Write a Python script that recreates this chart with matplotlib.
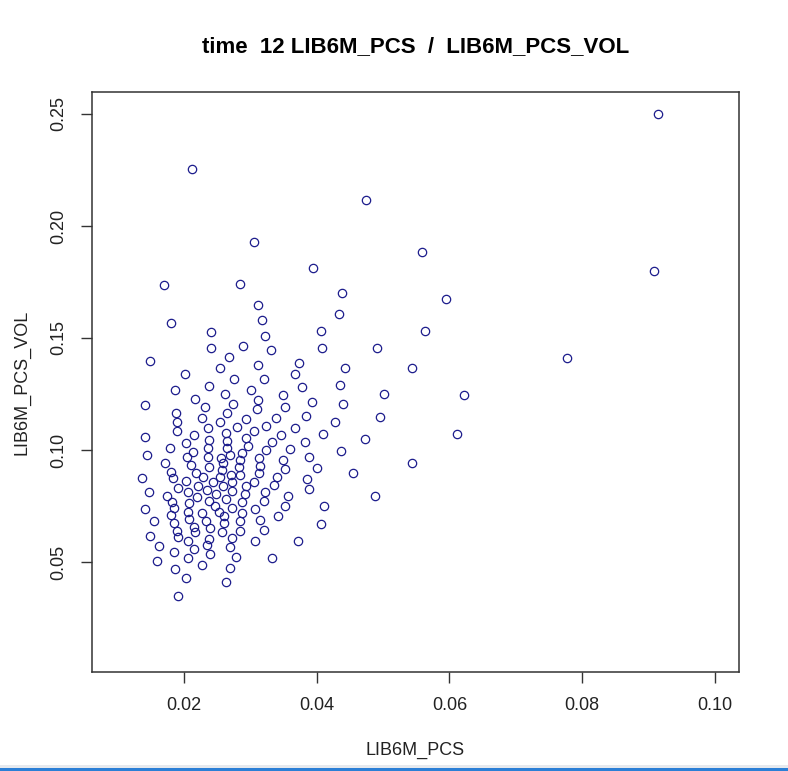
import matplotlib.pyplot as plt
from matplotlib.patches import Rectangle

plt.rcParams['font.family'] = ['Liberation Sans', 'DejaVu Sans']

# Werte (x = LIB6M_PCS, y = LIB6M_PCS_VOL)
lib6m_pcs = [
    0.0914, 0.0908, 0.0777, 0.0212, 0.0474, 0.0305, 0.0559, 0.0394, 0.0170, 0.0284,
    0.0438, 0.0311, 0.0595, 0.0180, 0.0318, 0.0434, 0.0241, 0.0406, 0.0322, 0.0563,
    0.0289, 0.0241, 0.0491, 0.0408, 0.0149, 0.0331, 0.0373, 0.0442, 0.0543, 0.0368,
    0.0378, 0.0435, 0.0349, 0.0502, 0.0622, 0.0352, 0.0393, 0.0440, 0.0384, 0.0495,
    0.0428, 0.0368, 0.0410, 0.0346, 0.0472, 0.0611, 0.0383, 0.0359, 0.0436, 0.0389,
    0.0349, 0.0352, 0.0401, 0.0454, 0.0543, 0.0386, 0.0389, 0.0356, 0.0488, 0.0352,
    0.0411, 0.0407, 0.0372, 0.0340, 0.0341, 0.0311, 0.0275, 0.0320, 0.0301, 0.0311,
    0.0274, 0.0310, 0.0338, 0.0294, 0.0324, 0.0280, 0.0305, 0.0293, 0.0332, 0.0297,
    0.0323, 0.0288, 0.0202, 0.0254, 0.0268, 0.0186, 0.0237, 0.0262, 0.0217, 0.0142,
    0.0232, 0.0188, 0.0265, 0.0227, 0.0189, 0.0255, 0.0236, 0.0189, 0.0215, 0.0264,
    0.0142, 0.0237, 0.0265, 0.0203, 0.0179, 0.0236, 0.0265, 0.0213, 0.0145, 0.0171,
    0.0181, 0.0184, 0.0204, 0.0210, 0.0218, 0.0236, 0.0237, 0.0229, 0.0256, 0.0259,
    0.0258, 0.0254, 0.0269, 0.0271, 0.0137, 0.0203, 0.0191, 0.0221, 0.0243, 0.0259,
    0.0147, 0.0206, 0.0234, 0.0248, 0.0273, 0.0174, 0.0182, 0.0219, 0.0238, 0.0264,
    0.0208, 0.0247, 0.0142, 0.0185, 0.0206, 0.0227, 0.0253, 0.0273, 0.0181, 0.0208,
    0.0233, 0.0261, 0.0155, 0.0185, 0.0261, 0.0215, 0.0239, 0.0189, 0.0217, 0.0258,
    0.0149, 0.0191, 0.0272, 0.0206, 0.0237, 0.0162, 0.0235, 0.0270, 0.0313, 0.0284,
    0.0315, 0.0283, 0.0313, 0.0284, 0.0305, 0.0294, 0.0335, 0.0273, 0.0322, 0.0292,
    0.0320, 0.0287, 0.0307, 0.0287, 0.0315, 0.0285, 0.0321, 0.0285, 0.0307, 0.0185,
    0.0215, 0.0239, 0.0278, 0.0159, 0.0206, 0.0227, 0.0186, 0.0269, 0.0203, 0.0263,
    0.0191, 0.0332,
]
lib6m_pcs_vol = [
    0.2500, 0.1799, 0.1411, 0.2254, 0.2116, 0.1929, 0.1884, 0.1813, 0.1737, 0.1741,
    0.1701, 0.1647, 0.1674, 0.1567, 0.1580, 0.1607, 0.1527, 0.1531, 0.1509, 0.1531,
    0.1464, 0.1455, 0.1455, 0.1455, 0.1397, 0.1446, 0.1390, 0.1365, 0.1365, 0.1338,
    0.1281, 0.1290, 0.1246, 0.1250, 0.1244, 0.1193, 0.1213, 0.1207, 0.1152, 0.1146,
    0.1124, 0.1097, 0.1071, 0.1067, 0.1050, 0.1071, 0.1036, 0.1003, 0.0994, 0.0967,
    0.0955, 0.0915, 0.0920, 0.0899, 0.0941, 0.0869, 0.0826, 0.0793, 0.0795, 0.0749,
    0.0751, 0.0668, 0.0595, 0.0879, 0.0707, 0.1379, 0.1317, 0.1317, 0.1270, 0.1225,
    0.1207, 0.1181, 0.1145, 0.1140, 0.1108, 0.1103, 0.1083, 0.1054, 0.1035, 0.1020,
    0.1000, 0.0985, 0.1339, 0.1364, 0.1416, 0.1270, 0.1286, 0.1250, 0.1229, 0.1201,
    0.1192, 0.1167, 0.1166, 0.1144, 0.1124, 0.1125, 0.1099, 0.1083, 0.1066, 0.1076,
    0.1057, 0.1045, 0.1042, 0.1030, 0.1011, 0.1010, 0.1010, 0.0989, 0.0978, 0.0942,
    0.0903, 0.0874, 0.0970, 0.0933, 0.0899, 0.0967, 0.0926, 0.0881, 0.0963, 0.0940,
    0.0911, 0.0881, 0.0978, 0.0888, 0.0874, 0.0862, 0.0832, 0.0841, 0.0858, 0.0839,
    0.0814, 0.0811, 0.0821, 0.0802, 0.0858, 0.0795, 0.0769, 0.0792, 0.0774, 0.0780,
    0.0762, 0.0750, 0.0737, 0.0740, 0.0725, 0.0717, 0.0725, 0.0741, 0.0710, 0.0691,
    0.0683, 0.0705, 0.0682, 0.0673, 0.0675, 0.0658, 0.0653, 0.0638, 0.0633, 0.0635,
    0.0617, 0.0610, 0.0606, 0.0595, 0.0603, 0.0571, 0.0578, 0.0569, 0.0963, 0.0955,
    0.0930, 0.0923, 0.0899, 0.0888, 0.0858, 0.0839, 0.0845, 0.0816, 0.0814, 0.0802,
    0.0772, 0.0769, 0.0735, 0.0717, 0.0687, 0.0683, 0.0643, 0.0638, 0.0595, 0.0546,
    0.0558, 0.0534, 0.0521, 0.0503, 0.0517, 0.0487, 0.0467, 0.0472, 0.0430, 0.0409,
    0.0348, 0.0517,
]

x_ticks = [0.02, 0.04, 0.06, 0.08, 0.10]
x_tick_labels = ['0.02', '0.04', '0.06', '0.08', '0.10']
y_ticks = [0.05, 0.10, 0.15, 0.20, 0.25]
y_tick_labels = ['0.05', '0.10', '0.15', '0.20', '0.25']

W, H = 788, 771
fig = plt.figure(figsize=(W / 100, H / 100), dpi=100)
ax = fig.add_axes([92 / W, 1 - 672 / H, 647 / W, 580 / H])

ax.plot(lib6m_pcs, lib6m_pcs_vol, linestyle='none', marker='o', markersize=6,
        markerfacecolor='none', markeredgecolor='#1c1c8c', markeredgewidth=0.9)

ax.set_xlim(0.00614, 0.10362)
ax.set_ylim(0.0009, 0.2598)
ax.set_xticks(x_ticks)
ax.set_xticklabels(x_tick_labels)
ax.set_yticks(y_ticks)
ax.set_yticklabels(y_tick_labels, rotation=90, va='center')
ax.tick_params(length=8, width=1, color='#333333', labelsize=13, labelcolor='#222222', pad=10)
for s in ax.spines.values():
    s.set_linewidth(1.1)
    s.set_color('#333333')

fig.text(415.5 / W, 1 - 47 / H, 'time  12 LIB6M_PCS  /  LIB6M_PCS_VOL',
         ha='center', va='center', fontsize=16, fontweight='bold')
fig.text(415.5 / W, 1 - 750 / H, 'LIB6M_PCS', ha='center', va='center',
         fontsize=13, color='#222222')
fig.text(22 / W, 1 - 382 / H, 'LIB6M_PCS_VOL', ha='center', va='center',
         rotation=90, fontsize=13, color='#222222')

# blauer Streifen am unteren Bildrand (Bildschirmfoto)
fig.patches.append(Rectangle((0, 0), 1, 3 / H, transform=fig.transFigure,
                             facecolor='#2b7fd6', edgecolor='none'))
fig.patches.append(Rectangle((0, 3 / H), 1, 3 / H, transform=fig.transFigure,
                             facecolor='#e6e9ee', edgecolor='none'))

fig.savefig('out.png', dpi=100)
